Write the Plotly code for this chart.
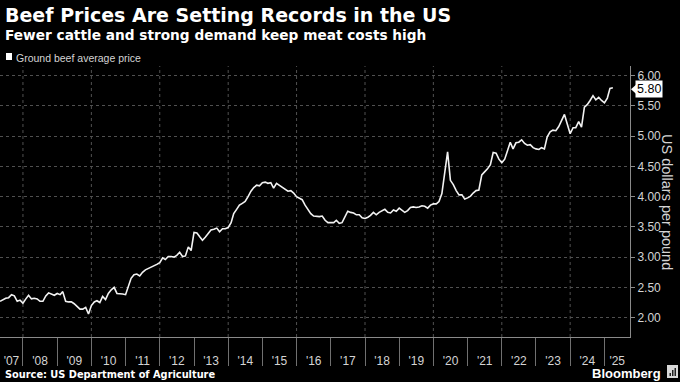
import plotly.graph_objects as go
import pandas as pd

# ---------------- data ----------------
start_month = "2007-05-01"
x_end = "2025-10-01"

# Ground beef average price, US dollars per pound, monthly from May 2007
price = [
    2.27, 2.30, 2.32, 2.33, 2.38, 2.36, 2.27, 2.29, 2.24, 2.31,
    2.37, 2.31, 2.32, 2.31, 2.27, 2.27, 2.36, 2.41, 2.39, 2.37,
    2.40, 2.38, 2.43, 2.27, 2.26, 2.26, 2.23, 2.18, 2.14, 2.14,
    2.17, 2.06, 2.20, 2.26, 2.28, 2.25, 2.35, 2.30, 2.40, 2.46,
    2.50, 2.40, 2.40, 2.39, 2.38, 2.53, 2.65, 2.71, 2.72, 2.69,
    2.75, 2.79, 2.81, 2.84, 2.86, 2.88, 2.91, 2.99, 2.96, 3.01,
    3.01, 3.00, 3.03, 3.08, 3.01, 3.02, 3.17, 3.11, 3.41, 3.40,
    3.34, 3.28, 3.33, 3.40, 3.45, 3.46, 3.48, 3.42, 3.47, 3.47,
    3.49, 3.57, 3.72, 3.79, 3.86, 3.89, 3.92, 4.00, 4.09, 4.15,
    4.19, 4.18, 4.23, 4.24, 4.22, 4.23, 4.14, 4.22, 4.19, 4.16,
    4.13, 4.09, 4.10, 4.06, 4.00, 3.97, 3.95, 3.86, 3.78, 3.72,
    3.68, 3.67, 3.67, 3.68, 3.61, 3.57,
    3.57, 3.57, 3.61, 3.56, 3.57, 3.66, 3.76, 3.74, 3.73, 3.70,
    3.70, 3.65, 3.64, 3.66, 3.69, 3.74, 3.70, 3.74, 3.76, 3.79,
    3.74, 3.73, 3.78, 3.76, 3.81, 3.78, 3.74, 3.77, 3.82, 3.83,
    3.82, 3.83, 3.85, 3.84, 3.81, 3.86, 3.88, 3.88, 3.92, 4.05,
    4.41, 4.74, 4.27, 4.20, 4.10, 4.03, 4.03, 3.96, 3.98, 4.01,
    4.06, 4.10, 4.11, 4.36, 4.41,
    4.46, 4.53, 4.73, 4.72, 4.62, 4.56, 4.62, 4.75, 4.90, 4.79,
    4.89, 4.90, 4.94, 4.88, 4.85, 4.86, 4.81, 4.79, 4.78, 4.81,
    4.79, 4.99, 5.07, 5.10, 5.09, 5.16, 5.26, 5.36, 5.20, 5.04,
    5.14, 5.14, 5.24, 5.15, 5.48, 5.52, 5.59, 5.67, 5.60, 5.64,
    5.59, 5.55, 5.63, 5.79, 5.80,
]

years = list(range(2007, 2026))
year_labels = ["'" + str(y)[2:] for y in years]
y_ticks = [2.00, 2.50, 3.00, 3.50, 4.00, 4.50, 5.00, 5.50, 6.00]
y_range = [1.68, 6.16]

title = "Beef Prices Are Setting Records in the US"
subtitle = "Fewer cattle and strong demand keep meat costs high"
series_name = "Ground beef average price"
y_title = "US dollars per pound"
source = "Source: US Department of Agriculture"

# ---------------- derived ----------------
dates = pd.date_range(start_month, periods=len(price), freq="MS")
x0 = pd.Timestamp(start_month)
x1 = pd.Timestamp(x_end)
year_starts = [pd.Timestamp(f"{y}-01-01") for y in years[1:]]
label_pos = []
for y in years:
    a = max(pd.Timestamp(f"{y}-01-01"), x0)
    b = min(pd.Timestamp(f"{y + 1}-01-01"), x1)
    label_pos.append(a + (b - a) / 2)
grid_years = [pd.Timestamp(f"{y}-01-01") for y in years if y % 2 == 0]

W, H = 680, 382
ML, MR, MT, MB = 0, 50, 66, 45
PW, PH = W - ML - MR, H - MT - MB


def px(xp):
    return (xp - ML) / PW


def py(yp):
    return (H - MB - yp) / PH


GRID = "#505050"
AXIS = "#8a8a8a"
TXT = "#d4d4d4"

fig = go.Figure()
fig.add_trace(go.Scatter(
    x=dates, y=price, mode="lines",
    line=dict(color="#f2f2f2", width=1.6),
    hoverinfo="skip", showlegend=False,
))

shapes = []
for g in grid_years:
    shapes.append(dict(type="line", xref="x", yref="paper", x0=g, x1=g, y0=0, y1=1,
                       line=dict(color=GRID, width=1, dash="dot"), layer="below"))
# legend swatch
shapes.append(dict(type="rect", xref="paper", yref="paper",
                   x0=px(6), x1=px(12), y0=py(60), y1=py(53),
                   fillcolor="white", line=dict(width=0)))
# pointer of the last-value label
last = price[-1]
dy = 4.5 * (y_range[1] - y_range[0]) / PH
ymid = last - 1.5 * (y_range[1] - y_range[0]) / PH
shapes.append(dict(type="path", xref="paper", yref="y",
                   path=f"M {px(631)} {ymid} L {px(636)} {ymid + dy} L {px(636)} {ymid - dy} Z",
                   fillcolor="white", line=dict(width=0)))
# Bloomberg icon
shapes.append(dict(type="rect", xref="paper", yref="paper",
                   x0=px(667), x1=px(678), y0=py(378), y1=py(365),
                   fillcolor="#d8d8d8", line=dict(width=0)))
for bx, bt in [(669.5, 373), (672, 370), (674.5, 368)]:
    shapes.append(dict(type="rect", xref="paper", yref="paper",
                       x0=px(bx), x1=px(bx + 1.5), y0=py(376), y1=py(bt),
                       fillcolor="#202020", line=dict(width=0)))

annotations = [
    dict(text=f"<b>{title}</b>", x=px(3), y=py(15), xref="paper", yref="paper",
         xanchor="left", yanchor="middle", showarrow=False,
         font=dict(family="DejaVu Sans", size=19, color="white")),
    dict(text=f"<b>{subtitle}</b>", x=px(3), y=py(35), xref="paper", yref="paper",
         xanchor="left", yanchor="middle", showarrow=False,
         font=dict(family="DejaVu Sans", size=13.7, color="white")),
    dict(text=series_name, x=px(14), y=py(57.5), xref="paper", yref="paper",
         xanchor="left", yanchor="middle", showarrow=False,
         font=dict(family="Liberation Sans", size=10.5, color=TXT)),
    dict(text=f"<b>{source}</b>", x=px(3), y=py(375), xref="paper", yref="paper",
         xanchor="left", yanchor="middle", showarrow=False,
         font=dict(family="DejaVu Sans", size=9.8, color="white")),
    dict(text="<b>Bloomberg</b>", x=px(663), y=py(373), xref="paper", yref="paper",
         xanchor="right", yanchor="middle", showarrow=False,
         font=dict(family="Liberation Sans", size=13, color="white")),
    dict(text=y_title, x=px(667), y=py(202), xref="paper", yref="paper",
         xanchor="center", yanchor="middle", showarrow=False, textangle=90,
         font=dict(family="Liberation Sans", size=14.5, color=TXT)),
    dict(text=f"{last:.2f}", x=px(635), y=last, xref="paper", yref="y",
         xanchor="left", yanchor="middle", showarrow=False, yshift=-1.5,
         bgcolor="white", borderpad=1,
         font=dict(family="Liberation Sans", size=12.5, color="black")),
]

fig.update_layout(
    width=W, height=H,
    margin=dict(l=ML, r=MR, t=MT, b=MB),
    paper_bgcolor="black", plot_bgcolor="black",
    showlegend=False,
    shapes=shapes,
    annotations=annotations,
    xaxis=dict(
        type="date", range=[x0, x1],
        tickmode="array", tickvals=label_pos, ticktext=year_labels,
        ticks="outside", ticklen=13, tickcolor="rgba(0,0,0,0)",
        tickfont=dict(family="Liberation Sans", size=12, color=TXT),
        showgrid=False, zeroline=False,
        showline=True, linecolor=AXIS, linewidth=1,
        minor=dict(tickmode="array", tickvals=year_starts, ticks="outside",
                   ticklen=28, tickcolor="#707070", tickwidth=1, showgrid=False),
        fixedrange=True,
    ),
    yaxis=dict(
        side="right", range=y_range,
        tickmode="array", tickvals=y_ticks, tickformat=".2f",
        ticks="outside", ticklen=4, tickcolor=AXIS,
        tickfont=dict(family="Liberation Sans", size=12, color=TXT),
        showgrid=True, gridcolor=GRID, griddash="dot", gridwidth=1,
        zeroline=False, showline=True, linecolor=AXIS, linewidth=1,
        fixedrange=True,
    ),
)

fig.write_html(
    "out.html",
    config={"displayModeBar": False, "staticPlot": True},
    post_script="document.body.style.margin='0';document.body.style.overflow='hidden';document.body.style.background='black';",
)
